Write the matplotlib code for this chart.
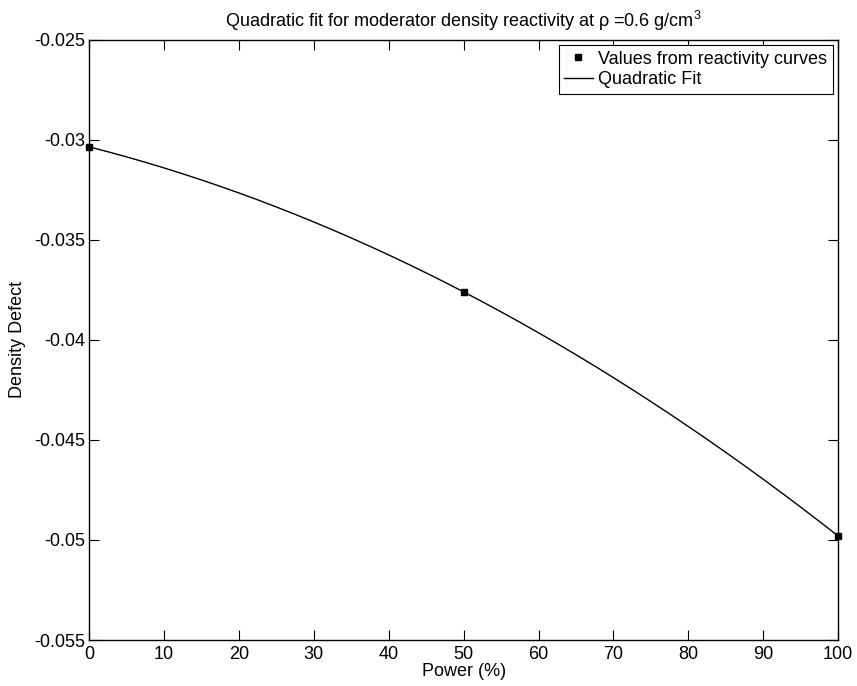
import numpy as np
import matplotlib
matplotlib.use("Agg")
import matplotlib.pyplot as plt

plt.rcParams["font.family"] = ["Liberation Sans", "DejaVu Sans"]
plt.rcParams["mathtext.fontset"] = "custom"
plt.rcParams["mathtext.rm"] = "Liberation Sans"
plt.rcParams["mathtext.it"] = "Liberation Sans"

# 反應度曲線讀取值
power = [0, 50, 100]
defect = [-0.03035, -0.0376, -0.0498]

# 二次擬合
coef = np.polyfit(power, defect, 2)
x_fit = np.linspace(0, 100, 201)
y_fit = np.polyval(coef, x_fit)

fig = plt.figure(figsize=(8.57, 6.86), dpi=100)
ax = fig.add_axes([0.104, 0.067, 0.874, 0.875])

ax.plot(power, defect, "ks", markersize=5, linestyle="none", clip_on=False,
        label="Values from reactivity curves", zorder=3)
ax.plot(x_fit, y_fit, "k-", linewidth=1.0, label="Quadratic Fit")

ax.set_xlim(0, 100)
ax.set_ylim(-0.055, -0.025)
ax.set_xticks(np.arange(0, 101, 10))
ax.set_yticks(np.arange(-0.055, -0.0249, 0.005))
ax.set_yticklabels(["-0.055", "-0.05", "-0.045", "-0.04", "-0.035", "-0.03", "-0.025"])
ax.tick_params(direction="in", top=True, right=True, labelsize=13, length=7)
ax.tick_params(axis="y", pad=3)
ax.tick_params(axis="x", pad=4)
for s in ax.spines.values():
    s.set_linewidth(1.0)

ax.set_xlabel("Power (%)", fontsize=13, labelpad=0)
ax.set_ylabel("Density Defect", fontsize=13, labelpad=6)
ax.set_title("Quadratic fit for moderator density reactivity at ρ =0.6 g/cm$^3$",
             fontsize=13, pad=9)

leg = ax.legend(loc="upper right", fontsize=13, fancybox=False, framealpha=1,
                edgecolor="black", borderaxespad=0.3, handlelength=1.6,
                handletextpad=0.3, borderpad=0.3, labelspacing=0.2)
leg.get_frame().set_linewidth(0.8)

fig.savefig("out.png", dpi=100)
